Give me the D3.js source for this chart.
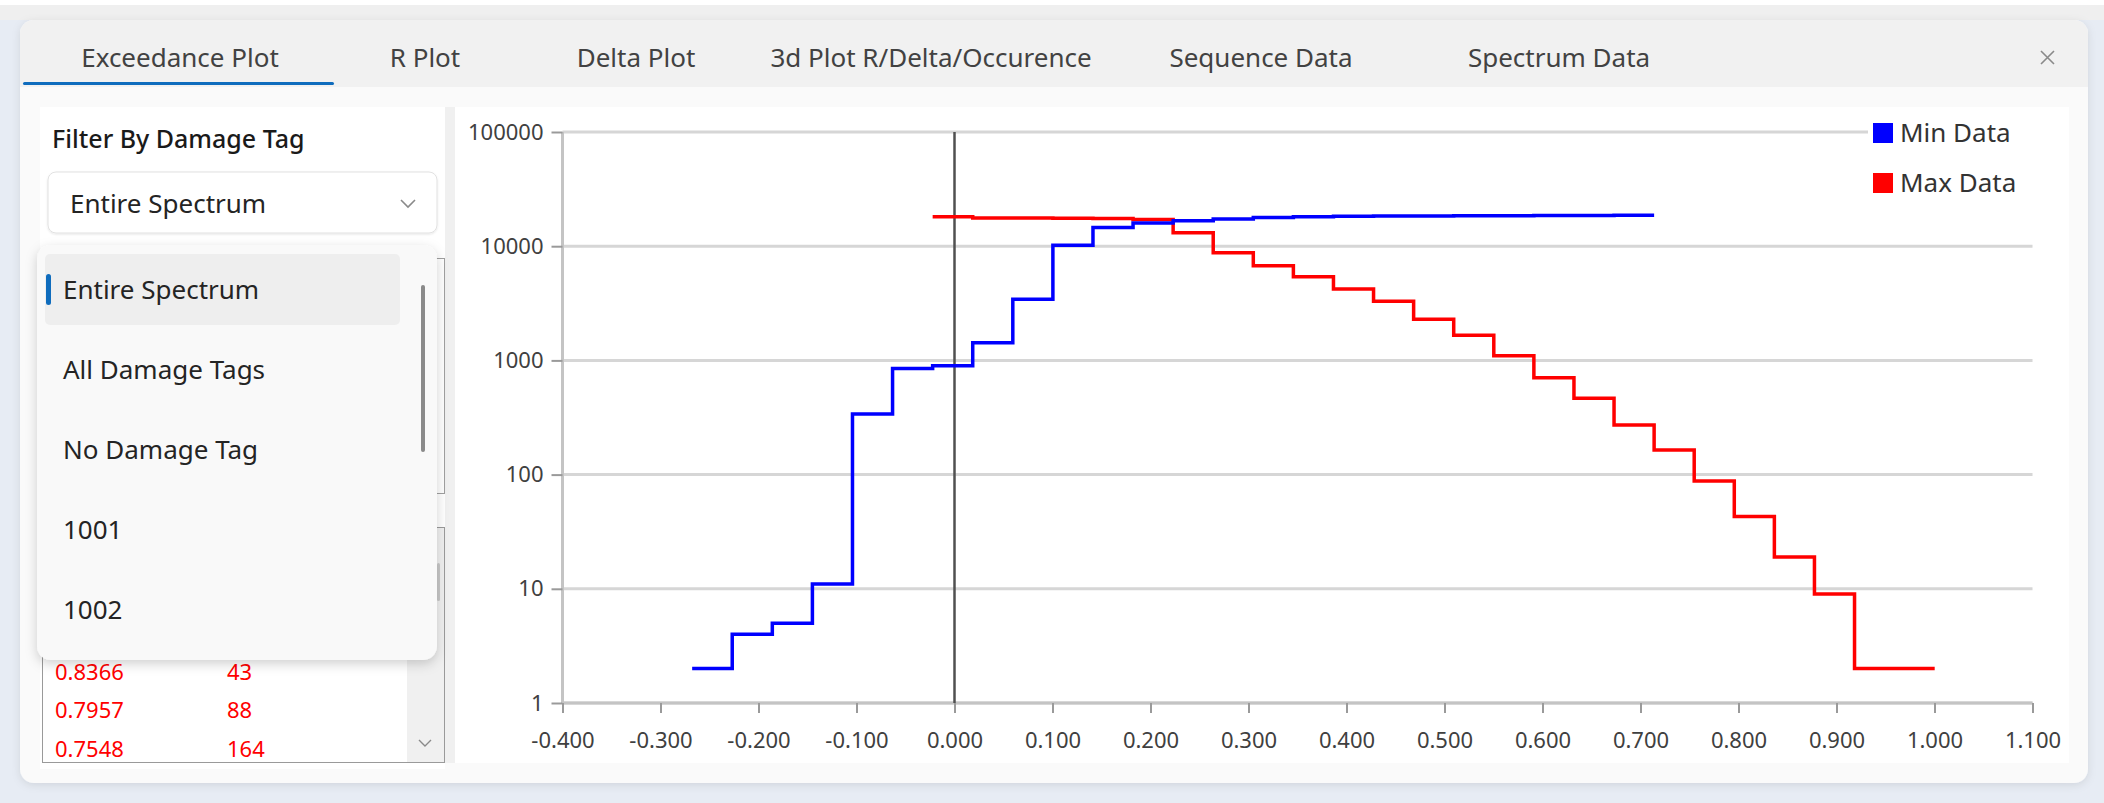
<!DOCTYPE html>
<html><head><meta charset="utf-8">
<script src="https://cdn.jsdelivr.net/npm/d3@7"></script>
<style>
html,body{margin:0;padding:0;background:#e7ecf4;overflow:hidden}
svg{display:block}
text{font-family:"Noto Sans","Open Sans",sans-serif}
</style></head><body>
<svg id="c" width="2104" height="803"></svg>
<script>
// ---------- data ----------
const tabLabels = ["Exceedance Plot","R Plot","Delta Plot","3d Plot R/Delta/Occurence","Sequence Data","Spectrum Data"];
const filterItems = ["Entire Spectrum","All Damage Tags","No Damage Tag","1001","1002"];
const tableDamage = ["0.8366","0.7957","0.7548"];
const tableCount = ["43","88","164"];
const xTicks = [-0.4,-0.3,-0.2,-0.1,0,0.1,0.2,0.3,0.4,0.5,0.6,0.7,0.8,0.9,1.0,1.1];
const yTicks = [1,10,100,1000,10000,100000];
const seriesNames = ["Min Data","Max Data"];
const seriesColors = ["#0000ff","#ff0000"];
const minDataX = [-0.2677,-0.2268,-0.1859,-0.1450,-0.1041,-0.0632,-0.0223,0.0186,0.0595,0.1004,0.1413,0.1822,0.2231,0.2640,0.3049,0.3458,0.3867,0.4276,0.4685,0.5094,0.5503,0.5912,0.6321,0.6730,0.7139];
const minDataY = [2,2,4,5,11,340,850,900,1430,3430,10200,14600,16000,16700,17300,17800,18100,18250,18350,18400,18450,18500,18550,18600,18620];
const maxDataX = [-0.0223,0.0186,0.0595,0.1004,0.1413,0.1822,0.2231,0.2640,0.3049,0.3458,0.3867,0.4276,0.4685,0.5094,0.5503,0.5912,0.6321,0.6730,0.7139,0.7548,0.7957,0.8366,0.8775,0.9184,0.9593,1.0002];
const maxDataY = [18100,18100,17700,17650,17600,17500,17100,13100,8770,6750,5410,4220,3290,2290,1660,1100,706,466,272,164,88,43,19,9,2,2];

// ---------- layout ----------
const svg = d3.select("#c");
const defs = svg.append("defs");
const f1 = defs.append("filter").attr("id","sh").attr("x","-10%").attr("y","-10%").attr("width","120%").attr("height","130%");
f1.append("feDropShadow").attr("dx",0).attr("dy",4).attr("stdDeviation",6).attr("flood-color","#000").attr("flood-opacity",0.18);
const f2 = defs.append("filter").attr("id","sh2").attr("x","-5%").attr("y","-5%").attr("width","110%").attr("height","110%");
f2.append("feDropShadow").attr("dx",0).attr("dy",2).attr("stdDeviation",4).attr("flood-color","#000").attr("flood-opacity",0.10);
const f3 = defs.append("filter").attr("id","sh3").attr("x","-5%").attr("y","-20%").attr("width","110%").attr("height","150%");
f3.append("feDropShadow").attr("dx",0).attr("dy",1).attr("stdDeviation",1).attr("flood-color","#000").attr("flood-opacity",0.10);

// page top band
svg.append("rect").attr("x",0).attr("y",0).attr("width",2104).attr("height",20).attr("fill","#efefef");
svg.append("rect").attr("x",0).attr("y",0).attr("width",2104).attr("height",5).attr("fill","#ffffff");

// dialog
svg.append("rect").attr("x",20).attr("y",20).attr("width",2068).attr("height",763).attr("rx",14).attr("fill","#fafafa").attr("filter","url(#sh2)");
svg.append("rect").attr("x",20).attr("y",20).attr("width",2068).attr("height",67).attr("rx",14).attr("fill","#f1f1f1");
svg.append("rect").attr("x",20).attr("y",50).attr("width",2068).attr("height",37).attr("fill","#f1f1f1");

// tabs
const tabCenters = [180,425,636,931,1261,1559];
svg.selectAll("text.tab").data(tabLabels).join("text").attr("class","tab")
  .attr("x",(d,i)=>tabCenters[i]).attr("y",67).attr("text-anchor","middle")
  .attr("font-size",26).attr("fill","#424242").text(d=>d);
svg.append("rect").attr("x",23).attr("y",82).attr("width",311).attr("height",3).attr("rx",1.5).attr("fill","#0f6cbd");
svg.append("path").attr("d","M2041,51L2054,64M2054,51L2041,64").attr("stroke","#8a8a8a").attr("stroke-width",1.6);

// panels
svg.append("rect").attr("x",40).attr("y",107).attr("width",405).attr("height",662).attr("fill","#ffffff");
svg.append("rect").attr("x",445).attr("y",107).attr("width",10).attr("height",656).attr("fill","#f0f0f0");
svg.append("rect").attr("x",455).attr("y",107).attr("width",1614).attr("height",656).attr("fill","#ffffff");

// left panel contents
svg.append("text").attr("x",52).attr("y",148).attr("font-size",25).attr("font-weight",500).attr("fill","#1a1a1a").text("Filter By Damage Tag");
svg.append("rect").attr("x",48).attr("y",172).attr("width",389).attr("height",61).attr("rx",8).attr("fill","#fff").attr("stroke","#e1e1e1").attr("filter","url(#sh3)");
svg.append("text").attr("x",70).attr("y",213).attr("font-size",26).attr("fill","#242424").text(filterItems[0]);
svg.append("path").attr("d","M401,200L408,207L415,200").attr("fill","none").attr("stroke","#8a8a8a").attr("stroke-width",1.6);

// table boxes behind popup
svg.append("rect").attr("x",42.5).attr("y",258.5).attr("width",402).attr("height",235).attr("fill","#fff").attr("stroke","#a0a0a0");
svg.append("rect").attr("x",42.5).attr("y",527.5).attr("width",402).attr("height",235).attr("fill","#fff").attr("stroke","#9a9a9a");
svg.append("rect").attr("x",407).attr("y",528).attr("width",37).attr("height",234).attr("fill","#f0f0f0");
svg.append("rect").attr("x",437).attr("y",563).attr("width",3).attr("height",38).attr("rx",1.5).attr("fill","#c8c8c8");
svg.append("path").attr("d","M419,740L425,746L431,740").attr("fill","none").attr("stroke","#8a8a8a").attr("stroke-width",1.4);
const rowY = [680,718,757];
svg.selectAll("text.dmg").data(tableDamage).join("text").attr("class","dmg")
  .attr("x",55).attr("y",(d,i)=>rowY[i]).attr("font-size",22).attr("fill","#ff0000").text(d=>d);
svg.selectAll("text.cnt").data(tableCount).join("text").attr("class","cnt")
  .attr("x",227).attr("y",(d,i)=>rowY[i]).attr("font-size",22).attr("fill","#ff0000").text(d=>d);

// popup
svg.append("rect").attr("x",37).attr("y",245).attr("width",400).attr("height",415).attr("rx",14).attr("fill","#f9f9f9").attr("filter","url(#sh)");
svg.append("rect").attr("x",45).attr("y",254).attr("width",355).attr("height",71).attr("rx",5).attr("fill","#eeeeee");
svg.append("rect").attr("x",46).attr("y",274).attr("width",5).attr("height",31).attr("rx",2.5).attr("fill","#0f6cbd");
svg.append("rect").attr("x",421).attr("y",285).attr("width",4).attr("height",167).attr("rx",2).attr("fill","#8a8a8a");
const itemY = [290,370,450,530,610];
svg.selectAll("text.item").data(filterItems).join("text").attr("class","item")
  .attr("x",63).attr("y",(d,i)=>itemY[i]+9).attr("font-size",26).attr("fill","#242424").text(d=>d);

// ---------- chart ----------
const x = d3.scaleLinear().domain([-0.4,1.1]).range([562.5,2032.5]);
const y = d3.scaleLog().domain([1,100000]).range([703,132]);

const g = svg.append("g");
// gridlines
g.selectAll("line.grid").data(yTicks).join("line").attr("class","grid")
  .attr("x1",x(-0.4)).attr("x2",x(1.1)).attr("y1",d=>y(d)).attr("y2",d=>y(d))
  .attr("stroke","#d6d6d6").attr("stroke-width",3);

// axes
const yAxis = g.append("g").attr("transform",`translate(${x(-0.4)},0)`)
  .call(d3.axisLeft(y).tickValues(yTicks).tickFormat(d=>String(d)).tickSize(11).tickPadding(8));
const xAxis = g.append("g").attr("transform",`translate(0,${y(1)})`)
  .call(d3.axisBottom(x).tickValues(xTicks).tickFormat(d=>d.toFixed(3)).tickSize(10).tickPadding(19));
[yAxis,xAxis].forEach(a=>{
  a.select(".domain").attr("stroke","#c4c4c4").attr("stroke-width",3);
  a.selectAll(".tick line").attr("stroke","#9a9a9a").attr("stroke-width",2);
  a.selectAll(".tick text").attr("font-size",22).attr("fill","#404040").attr("font-family","\"Noto Sans\",sans-serif");
});
yAxis.select(".domain").attr("d",`M0,${y(1)}V${y(100000)}`);
xAxis.select(".domain").attr("d",`M${x(-0.4)},0H${x(1.1)}`);

// zero line
g.append("line").attr("x1",x(0)).attr("x2",x(0)).attr("y1",y(100000)).attr("y2",y(1))
  .attr("stroke","#505050").attr("stroke-width",2.5);

// series
const line = d3.line().x(d=>x(d[0])).y(d=>y(d[1])).curve(d3.curveStepBefore);
const series = [d3.zip(minDataX,minDataY), d3.zip(maxDataX,maxDataY)];
g.selectAll("path.series").data([series[1],series[0]]).join("path").attr("class","series")
  .attr("d",line).attr("fill","none")
  .attr("stroke",(d,i)=>seriesColors[1-i]).attr("stroke-width",3.5);

// legend
const lg = svg.append("g");
lg.append("rect").attr("x",1868).attr("y",112).attr("width",190).attr("height",90).attr("fill","#fff");
lg.selectAll("rect.sw").data(seriesNames).join("rect").attr("class","sw")
  .attr("x",1873).attr("y",(d,i)=>123+i*50).attr("width",20).attr("height",20).attr("fill",(d,i)=>seriesColors[i]);
lg.selectAll("text.lt").data(seriesNames).join("text").attr("class","lt")
  .attr("x",1900).attr("y",(d,i)=>142+i*50).attr("font-size",26).attr("fill","#333").text(d=>d);
</script>
</body></html>
